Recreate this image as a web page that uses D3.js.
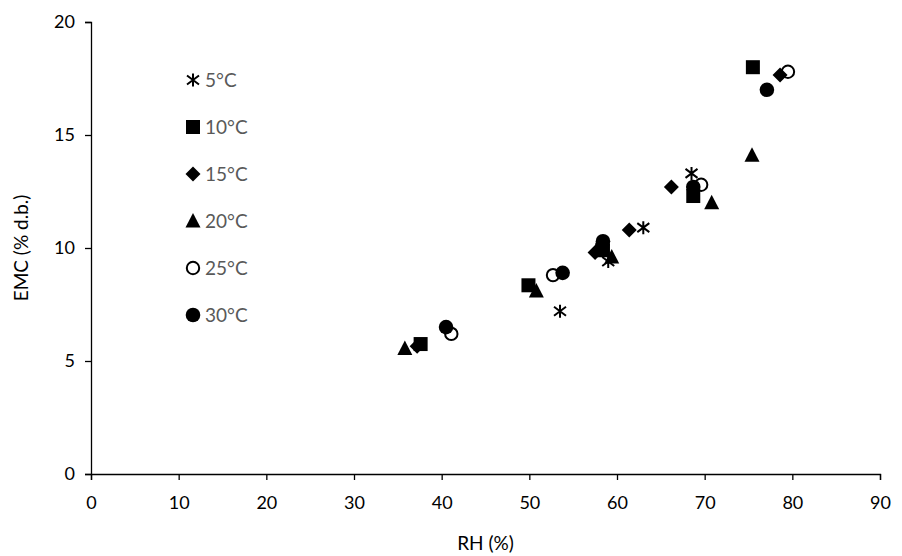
<!DOCTYPE html>
<html>
<head>
<meta charset="utf-8">
<script src="https://cdn.jsdelivr.net/npm/d3@7"></script>
<style>
  html, body { margin: 0; padding: 0; background: #fff; }
  svg { display: block; }
  text { font-family: Lato, "Open Sans", sans-serif; }
</style>
</head>
<body>
<svg id="chart" width="902" height="556"></svg>
<script>
// ---- data ----
const seriesNames = ["5°C", "10°C", "15°C", "20°C", "25°C", "30°C"];
const rh5  = [53.5, 59.0, 63.0, 68.5];
const emc5 = [7.2, 9.4, 10.9, 13.3];
const rh10  = [37.6, 49.9, 58.4, 68.7, 75.5];
const emc10 = [5.75, 8.35, 9.9, 12.3, 18.0];
const rh15  = [37.2, 57.5, 61.4, 66.2, 78.6];
const emc15 = [5.65, 9.8, 10.8, 12.7, 17.65];
const rh20  = [35.8, 50.8, 59.4, 70.8, 75.4];
const emc20 = [5.55, 8.1, 9.6, 12.0, 14.1];
const rh25  = [41.1, 52.7, 58.3, 69.6, 79.5];
const emc25 = [6.2, 8.8, 10.1, 12.8, 17.8];
const rh30  = [40.5, 53.8, 58.4, 68.7, 77.1];
const emc30 = [6.5, 8.9, 10.3, 12.7, 17.0];
const xTicks = [0, 10, 20, 30, 40, 50, 60, 70, 80, 90];
const yTicks = [0, 5, 10, 15, 20];

const series = [
  {name: seriesNames[0], x: rh5,  y: emc5,  shape: "asterisk"},
  {name: seriesNames[1], x: rh10, y: emc10, shape: "square"},
  {name: seriesNames[2], x: rh15, y: emc15, shape: "diamond"},
  {name: seriesNames[3], x: rh20, y: emc20, shape: "triangle"},
  {name: seriesNames[4], x: rh25, y: emc25, shape: "open"},
  {name: seriesNames[5], x: rh30, y: emc30, shape: "circle"}
];

// ---- layout ----
const svg = d3.select("#chart");
const L = 91, R = 880, T = 22, B = 474;
const x = d3.scaleLinear().domain([0, 90]).range([L, R]);
const y = d3.scaleLinear().domain([0, 20]).range([B, T]);

// axes
const xAxis = svg.append("g").attr("transform", `translate(0,${B})`)
  .call(d3.axisBottom(x).tickValues(xTicks).tickSize(6).tickPadding(16).tickFormat(d3.format("d")));
const yAxis = svg.append("g").attr("transform", `translate(${L},0)`)
  .call(d3.axisLeft(y).tickValues(yTicks).tickSize(6).tickPadding(10).tickFormat(d3.format("d")));
[xAxis, yAxis].forEach(g => {
  g.select(".domain").attr("stroke", "#000").attr("stroke-width", 1.3);
  g.selectAll(".tick line").attr("stroke", "#000").attr("stroke-width", 1.3);
  g.selectAll(".tick text").attr("fill", "#000").style("font-size", "18px")
    .style("font-family", "Lato, sans-serif");
});

// axis titles
svg.append("text").attr("x", (L + R) / 2).attr("y", 550).attr("text-anchor", "middle")
  .attr("fill", "#000").style("font-size", "19px").text("RH (%)");
svg.append("text").attr("transform", `translate(28,${(T + B) / 2}) rotate(-90)`)
  .attr("text-anchor", "middle").attr("fill", "#000").style("font-size", "19px").text("EMC (% d.b.)");

// marker drawing
function drawMarker(g, shape) {
  if (shape === "square") {
    g.append("rect").attr("x", -7).attr("y", -7).attr("width", 14).attr("height", 14).attr("fill", "#000");
  } else if (shape === "diamond") {
    g.append("path").attr("d", "M0,-7.5L7.5,0L0,7.5L-7.5,0Z").attr("fill", "#000");
  } else if (shape === "triangle") {
    g.append("path").attr("d", "M0,-8L7.5,6.5L-7.5,6.5Z").attr("fill", "#000");
  } else if (shape === "open") {
    g.append("circle").attr("r", 6.2).attr("fill", "none").attr("stroke", "#000").attr("stroke-width", 2);
  } else if (shape === "circle") {
    g.append("circle").attr("r", 7.3).attr("fill", "#000");
  } else if (shape === "asterisk") {
    const p = "M0,-6.5L0,6.5M-6,-4.5L6,4.5M-6,4.5L6,-4.5";
    g.append("path").attr("d", p).attr("stroke", "#000").attr("stroke-width", 2).attr("fill", "none");
  }
}

// points
series.forEach(s => {
  const pts = s.x.map((v, i) => ({rx: v, ry: s.y[i]}));
  svg.append("g").selectAll("g").data(pts).join("g")
    .attr("transform", d => `translate(${x(d.rx)},${y(d.ry)})`)
    .each(function () { drawMarker(d3.select(this), s.shape); });
});

// legend
const legend = svg.append("g");
series.forEach((s, i) => {
  const gy = 80 + i * 47;
  const g = legend.append("g").attr("transform", `translate(193,${gy})`);
  drawMarker(g, s.shape);
  legend.append("text").attr("x", 205).attr("y", gy).attr("dy", "0.35em")
    .attr("fill", "#595959").style("font-size", "19px").text(s.name);
});
</script>
</body>
</html>
